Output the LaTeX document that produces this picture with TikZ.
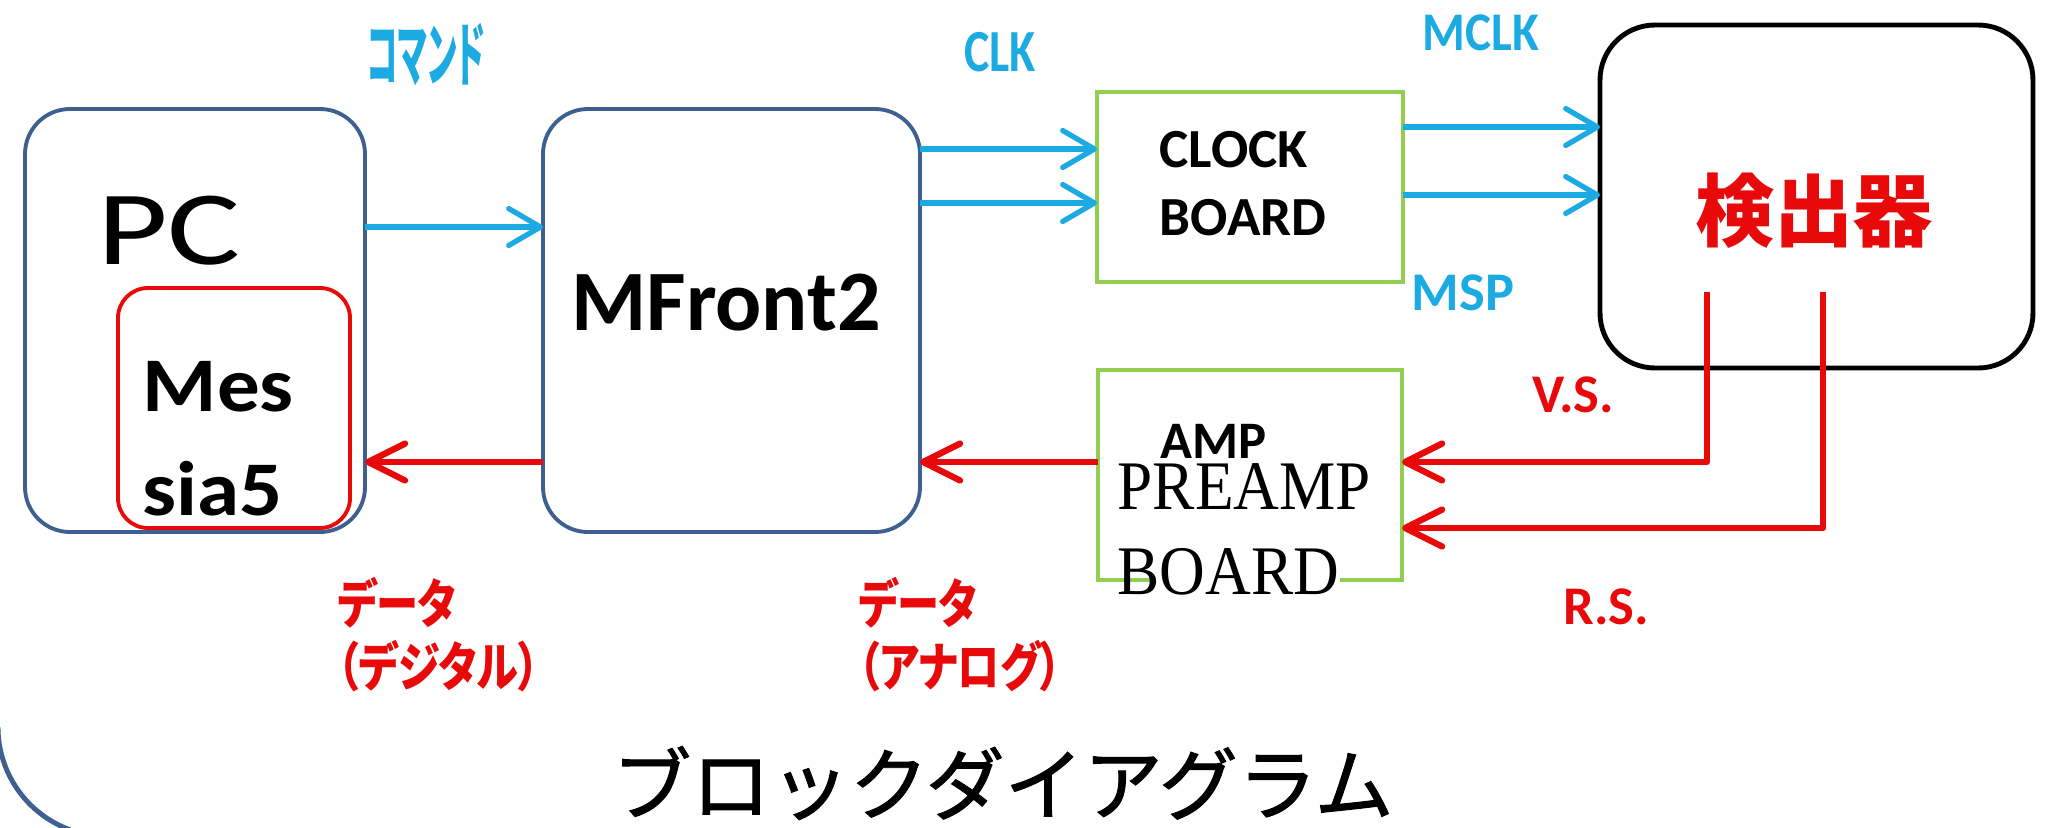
\documentclass[tikz,border=0pt]{standalone}
\usepackage{fontspec}
\usepackage{tikz}
\usetikzlibrary{arrows.meta}
\setmainfont{Carlito}
\newfontfamily\timesfont{Liberation Serif}
\newfontfamily\jpfont{Noto Sans CJK JP}
\newfontfamily\jpcapfont{Noto Sans CJK JP}[FakeBold=1.2]
\newfontfamily\jpfontp{Noto Sans CJK JP}[RawFeature=+palt]

\definecolor{boxblue}{RGB}{62,96,145}
\definecolor{sigblue}{RGB}{28,170,226}
\definecolor{sigred}{RGB}{232,10,10}
\definecolor{boardgreen}{RGB}{146,206,80}

\begin{document}
\begin{tikzpicture}[
  unit/.style={draw=boxblue, line width=1.1pt, rounded corners=0.45cm, outer sep=0pt},
  board/.style={draw=boardgreen, line width=1.3pt, outer sep=0pt},
  bluearr/.style={sigblue, line width=1.5pt, -{Straight Barb[length=9pt,width=10.5pt,round]}},
  redarr/.style={sigred, line width=1.8pt, line join=round, -{Straight Barb[length=10.5pt,width=10.5pt,round]}},
  bluelbl/.style={sigblue, font=\bfseries\fontsize{15.5}{18}\selectfont},
  redlbl/.style={sigred, font=\bfseries\fontsize{15.5}{18}\selectfont},
  jplbl/.style={sigred, anchor=west, inner sep=0pt, align=left, xscale=0.8,
    font=\jpfontp\bfseries\fontsize{15}{17.9}\selectfont}
]
\useasboundingbox (0,0) rectangle (20.55,8.27);

% Outer frame corner
\draw[boxblue, line width=1.4pt] (-0.02,1.0) arc[start angle=180, end angle=250, radius=1.094];

% Boxes
\node[unit, minimum width=3.40cm, minimum height=4.23cm] (pc) at (1.95,5.065) {};
\node[draw=sigred, line width=1.1pt, rounded corners=0.3cm, outer sep=0pt,
  minimum width=2.32cm, minimum height=2.40cm] (messia) at (2.34,4.19) {};
\node[unit, minimum width=3.77cm, minimum height=4.23cm] (mfront) at (7.315,5.065) {};
\node[board, minimum width=3.06cm, minimum height=1.90cm] (clock) at (12.5,6.40) {};
\node[board, minimum width=3.04cm, minimum height=2.10cm] (preamp) at (12.5,3.52) {};
\node[draw=black, line width=1.4pt, rounded corners=0.55cm, outer sep=0pt,
  minimum width=4.33cm, minimum height=3.43cm] (det) at (18.165,6.305) {};

% Signal rows
\coordinate (cmdrow) at (0,6.00);
\coordinate (clkrowa) at (0,6.78);
\coordinate (clkrowb) at (0,6.24);
\coordinate (mclkrow) at (0,7.00);
\coordinate (msprow) at (0,6.32);
\coordinate (datarow) at (0,3.65);
\coordinate (rsrow) at (0,2.99);
\coordinate (vsout) at (17.07,5.35);
\coordinate (rsout) at (18.23,5.35);

% Arrows
\draw[bluearr] (pc.east |- cmdrow) -- (mfront.west |- cmdrow);
\draw[bluearr] (mfront.east |- clkrowa) -- (clock.west |- clkrowa);
\draw[bluearr] (mfront.east |- clkrowb) -- (clock.west |- clkrowb);
\draw[bluearr] (clock.east |- mclkrow) -- (det.west |- mclkrow);
\draw[bluearr] (clock.east |- msprow) -- (det.west |- msprow);
\draw[redarr] (mfront.west |- datarow) -- (pc.east |- datarow);
\draw[redarr] (preamp.west |- datarow) -- (mfront.east |- datarow);
\draw[redarr] (vsout) |- (preamp.east |- datarow);
\draw[redarr] (rsout) |- (preamp.east |- rsrow);

% Box texts
\node[xscale=1.3, font=\fontsize{30}{34}\selectfont] (pclbl) at (1.69,5.96) {PC};
\node[anchor=north west, inner sep=0pt, align=left, xscale=1.1,
  font=\bfseries\fontsize{22}{29.6}\selectfont] (messialbl) at (1.42,4.66) {Mes\\sia5};
\node[font=\bfseries\fontsize{24.5}{29}\selectfont] (mfrontlbl) at (7.26,5.24) {MFront2};
\node[anchor=north west, inner sep=0pt, align=left,
  font=\bfseries\fontsize{15.7}{19.3}\selectfont] (clocklbl) at (11.59,6.96) {CLOCK\\BOARD};
\node[sigred, font=\jpfont\bfseries\fontsize{22.5}{27}\selectfont] (detlbl) at (18.14,6.16) {検出器};
\node[font=\bfseries\fontsize{15}{18}\selectfont] (amplbl) at (12.14,3.855) {AMP};
\fill[white] (11.53,2.27) rectangle (13.40,2.67);
\node[anchor=north west, inner sep=0pt, align=left, yscale=1.1,
  font=\timesfont\fontsize{18}{22}\selectfont] (preamplbl) at (11.17,3.64) {PREAMP\\BOARD};

% Signal labels
\node[sigblue, xscale=0.45, font=\jpfontp\bfseries\fontsize{20}{24}\selectfont] (cmdlbl) at (4.26,7.72) {コマンド};
\node[bluelbl, xscale=0.8, font=\bfseries\fontsize{17}{20}\selectfont] (clklbl) at (10.0,7.75) {CLK};
\node[bluelbl, xscale=0.9] (mclklbl) at (14.81,7.94) {MCLK};
\node[bluelbl] (msplbl) at (14.63,5.34) {MSP};
\node[redlbl] (vslbl) at (15.73,4.32) {V.S.};
\node[redlbl] (rslbl) at (16.06,2.20) {R.S.};
\node[jplbl] (digitallbl) at (3.37,1.925) {データ\\（デジタル）};
\node[jplbl] (analoglbl) at (8.58,1.925) {データ\\（アナログ）};

% Caption
\node[font=\jpcapfont\fontsize{22.5}{26}\selectfont] (caption) at (10.03,0.44) {ブロックダイアグラム};
\end{tikzpicture}
\end{document}
